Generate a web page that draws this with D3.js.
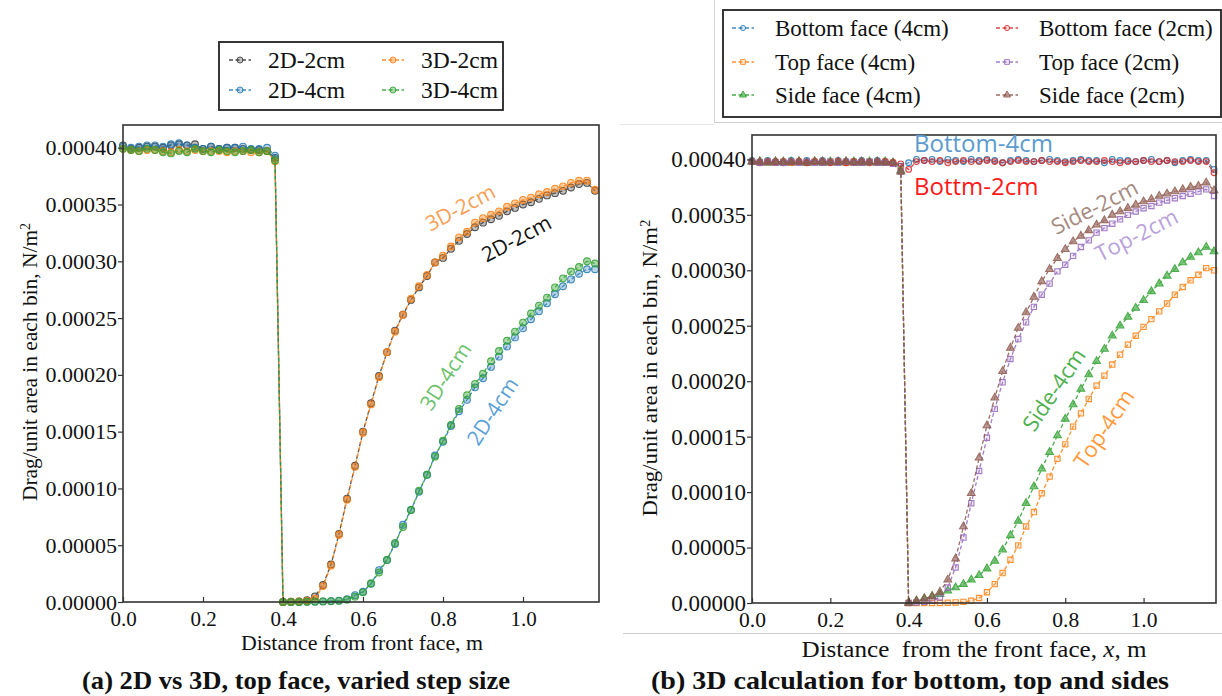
<!DOCTYPE html>
<html>
<head>
<meta charset="utf-8">
<script src="https://cdn.jsdelivr.net/npm/d3@7"></script>
<style>
  body { margin: 0; background: #fff; }
  svg { display: block; }
  text { font-family: "Liberation Serif", "Times New Roman", serif; fill: #111; }
  .note { font-family: "Open Sans", "Noto Sans", sans-serif; }
</style>
</head>
<body>
<svg id="fig" width="1222" height="696"></svg>
<script>
// distance from front face, m
const xs = [0.00, 0.02, 0.04, 0.06, 0.08, 0.10, 0.12, 0.14, 0.16, 0.18,
  0.20, 0.22, 0.24, 0.26, 0.28, 0.30, 0.32, 0.34, 0.36, 0.38,
  0.40, 0.42, 0.44, 0.46, 0.48, 0.50, 0.52, 0.54, 0.56, 0.58,
  0.60, 0.62, 0.64, 0.66, 0.68, 0.70, 0.72, 0.74, 0.76, 0.78,
  0.80, 0.82, 0.84, 0.86, 0.88, 0.90, 0.92, 0.94, 0.96, 0.98,
  1.00, 1.02, 1.04, 1.06, 1.08, 1.10, 1.12, 1.14, 1.16, 1.18];

// drag per unit area, in units of 1e-5 N/m^2
// (a) top face
const d2cm2D = [40.2, 39.9, 40.0, 40.1, 40.1, 40.0, 40.2, 40.3, 40.2, 40.3, 39.9, 40.1, 39.9, 40.0, 40.0, 39.9, 39.8, 39.8, 39.7, 39.1,
  0, 0.02, 0.05, 0.15, 0.5, 1.5, 3.3, 6.0, 9.1, 12.0, 15.0, 17.5, 19.9, 22.0, 23.9, 25.3, 26.6, 27.7, 28.7, 29.9,
  30.3, 31.1, 31.8, 32.4, 33.0, 33.4, 33.7, 34.0, 34.4, 34.7, 35.0, 35.2, 35.5, 35.8, 36.0, 36.2, 36.5, 36.8, 36.9, 36.2];
const d4cm2D = [40.1, 40.0, 40.1, 40.2, 40.2, 40.1, 40.3, 40.4, 40.2, 40.0, 39.9, 40.1, 39.9, 40.0, 40.0, 40.1, 39.9, 39.9, 40.0, 39.3,
  0, 0, 0, 0.02, 0.03, 0.05, 0.08, 0.12, 0.25, 0.6, 0.9, 1.6, 2.8, 3.7, 5.1, 6.8, 8.1, 9.7, 11.2, 12.9,
  14.1, 15.5, 16.8, 17.8, 18.9, 19.7, 20.7, 21.6, 22.5, 23.3, 24.1, 24.9, 25.6, 26.3, 27.1, 27.8, 28.4, 28.9, 29.3, 29.3];
const d2cm3D = [39.9, 39.8, 39.7, 39.8, 39.8, 39.7, 39.6, 39.8, 39.7, 39.8, 39.7, 39.7, 39.7, 39.6, 39.7, 39.7, 39.6, 39.6, 39.7, 38.8,
  0, 0.02, 0.05, 0.1, 0.3, 1.4, 3.2, 5.9, 9.0, 11.9, 14.9, 17.4, 19.8, 22.0, 23.8, 25.3, 26.7, 27.8, 28.8, 29.9,
  30.5, 31.3, 32.1, 32.6, 33.4, 33.8, 34.1, 34.4, 34.8, 35.1, 35.4, 35.6, 35.9, 36.1, 36.4, 36.6, 36.9, 37.1, 37.1, 36.3];
const d4cm3D = [39.9, 39.8, 39.7, 39.9, 39.8, 39.6, 39.5, 39.7, 39.6, 39.9, 39.7, 39.6, 39.8, 39.7, 39.6, 39.7, 39.8, 39.6, 39.7, 38.9,
  0, 0, 0, 0.02, 0.03, 0.05, 0.07, 0.1, 0.2, 0.47, 0.85, 1.65, 2.6, 3.7, 5.2, 6.6, 8.1, 9.8, 11.2, 12.8,
  14.2, 15.6, 17.0, 18.2, 19.2, 20.1, 21.2, 22.1, 23.0, 23.8, 24.6, 25.4, 26.1, 26.8, 27.7, 28.5, 29.1, 29.5, 30.0, 29.8];

// (b) 3D faces
const bottom4 = [39.9, 39.8, 39.9, 39.8, 39.8, 39.9, 39.8, 39.9, 39.8, 39.9, 39.8, 39.9, 39.8, 39.8, 39.9, 39.8, 39.9, 39.8, 39.7, 39.4,
  39.7, 40.0, 39.9, 40.0, 39.8, 40.0, 39.9, 39.8, 40.0, 39.9, 40.0, 39.9, 39.7, 39.9, 40.0, 39.9, 39.8, 39.9, 40.0, 39.9,
  39.8, 39.9, 40.0, 39.9, 39.9, 39.7, 40.0, 39.9, 39.9, 39.8, 39.9, 40.0, 39.8, 39.9, 39.7, 39.9, 40.0, 39.9, 39.9, 39.1];
const top4 = [39.8, 39.7, 39.8, 39.7, 39.8, 39.7, 39.8, 39.7, 39.8, 39.7, 39.8, 39.8, 39.7, 39.8, 39.7, 39.8, 39.7, 39.8, 39.7, 39.0,
  0, 0, 0, 0, 0, 0.02, 0.05, 0.1, 0.2, 0.45, 0.97, 1.7, 2.7, 3.9, 5.2, 6.9, 8.2, 9.9, 11.4, 13.0,
  14.3, 15.9, 17.1, 18.4, 19.6, 20.5, 21.5, 22.4, 23.3, 24.1, 24.9, 25.6, 26.3, 27.0, 27.8, 28.5, 29.1, 29.6, 30.2, 30.0];
const side4 = [39.8, 39.8, 39.7, 39.8, 39.7, 39.8, 39.8, 39.7, 39.8, 39.7, 39.8, 39.7, 39.8, 39.8, 39.7, 39.8, 39.7, 39.8, 39.7, 39.0,
  0, 0.2, 0.4, 0.6, 0.8, 1.1, 1.4, 1.7, 2.1, 2.5, 3.1, 3.8, 4.8, 6.1, 7.4, 9.0, 10.5, 12.1, 13.6, 15.1,
  16.6, 17.9, 19.3, 20.6, 21.8, 22.9, 24.1, 25.0, 25.8, 26.6, 27.3, 28.1, 28.8, 29.5, 30.1, 30.7, 31.2, 31.6, 32.1, 31.7];
const bottom2 = [39.8, 39.7, 39.8, 39.8, 39.7, 39.8, 39.8, 39.7, 39.8, 39.8, 39.7, 39.8, 39.7, 39.8, 39.8, 39.7, 39.8, 39.8, 39.7, 39.6,
  39.1, 39.8, 39.9, 39.8, 39.9, 39.7, 39.8, 39.9, 39.8, 39.8, 39.9, 39.8, 39.7, 39.8, 39.9, 39.8, 39.8, 39.9, 39.8, 39.8,
  39.7, 39.8, 39.9, 39.8, 39.8, 39.9, 39.8, 39.7, 39.8, 39.8, 39.9, 39.8, 39.8, 39.9, 39.8, 39.8, 39.9, 39.8, 39.8, 38.8];
const top2 = [39.8, 39.7, 39.8, 39.7, 39.7, 39.8, 39.7, 39.8, 39.7, 39.7, 39.8, 39.7, 39.8, 39.7, 39.7, 39.8, 39.7, 39.7, 39.6, 38.9,
  0, 0.05, 0.1, 0.2, 0.5, 1.4, 3.2, 5.9, 9.0, 11.9, 14.9, 17.5, 19.9, 22.0, 23.8, 25.3, 26.7, 27.8, 28.8, 29.9,
  30.5, 31.3, 32.1, 32.7, 33.4, 33.8, 34.2, 34.6, 35.0, 35.3, 35.6, 35.8, 36.1, 36.3, 36.5, 36.7, 36.9, 37.1, 37.3, 36.7];
const side2 = [39.8, 39.8, 39.7, 39.8, 39.8, 39.7, 39.8, 39.7, 39.8, 39.8, 39.7, 39.8, 39.8, 39.7, 39.8, 39.7, 39.8, 39.7, 39.7, 38.9,
  0, 0.2, 0.4, 0.6, 1.0, 2.1, 4.0, 6.9, 9.9, 13.1, 16.0, 18.5, 20.9, 23.0, 24.8, 26.2, 27.6, 29.0, 30.1, 31.1,
  31.9, 32.6, 33.1, 33.6, 34.1, 34.5, 35.0, 35.3, 35.6, 35.9, 36.2, 36.4, 36.7, 36.9, 37.1, 37.3, 37.5, 37.6, 37.9, 37.2];

const xTicks = [0.0, 0.2, 0.4, 0.6, 0.8, 1.0];
const yTicks = [0, 5, 10, 15, 20, 25, 30, 35, 40];

const svg = d3.select('#fig');

// screenshot border lines around panel (b)
svg.append('line').attr('x1', 620).attr('x2', 714).attr('y1', 124.5).attr('y2', 124.5).attr('stroke', '#e2e2e2');
svg.append('line').attr('x1', 714).attr('x2', 1222).attr('y1', 122.5).attr('y2', 122.5).attr('stroke', '#cfcfcf');
svg.append('line').attr('x1', 714.5).attr('x2', 714.5).attr('y1', 0).attr('y2', 122).attr('stroke', '#d8d8d8');
svg.append('line').attr('x1', 623).attr('x2', 1222).attr('y1', 633.5).attr('y2', 633.5).attr('stroke', '#cccccc');

const symbols = { circle: d3.symbolCircle, square: d3.symbolSquare, triangle: d3.symbolTriangle };

function drawPanel(cfg) {
  const g = svg.append('g');
  const x = d3.scaleLinear().domain([0, cfg.xMax]).range([cfg.left, cfg.right]);
  const y = d3.scaleLinear().domain([0, cfg.yMax]).range([cfg.bottom, cfg.top]);

  // series
  cfg.series.forEach(s => {
    const pts = xs.map((d, i) => [d, s.values[i]]);
    const sg = g.append('g').attr('opacity', s.opacity || 0.85);
    sg.append('path')
      .datum(pts)
      .attr('fill', 'none')
      .attr('stroke', s.color)
      .attr('stroke-width', 1.3)
      .attr('stroke-dasharray', '4,2.5')
      .attr('d', d3.line().x(d => x(d[0])).y(d => y(d[1])));
    sg.selectAll('path.m')
      .data(pts)
      .enter()
      .append('path')
      .attr('class', 'm')
      .attr('transform', d => `translate(${x(d[0])},${y(d[1])})`)
      .attr('d', d3.symbol().type(symbols[s.marker]).size(s.size))
      .attr('fill', s.color)
      .attr('fill-opacity', s.fillOpacity)
      .attr('stroke', s.color)
      .attr('stroke-width', 1.1);
  });

  // frame
  g.append('rect')
    .attr('x', cfg.left).attr('y', cfg.top)
    .attr('width', cfg.right - cfg.left).attr('height', cfg.bottom - cfg.top)
    .attr('fill', 'none').attr('stroke', '#333').attr('stroke-width', 1.6);

  const xAxis = g.append('g')
    .attr('transform', `translate(0,${cfg.bottom})`)
    .call(d3.axisBottom(x).tickValues(xTicks).tickFormat(d3.format('.1f')).tickSize(-5).tickPadding(cfg.xPad));
  const yAxis = g.append('g')
    .attr('transform', `translate(${cfg.left},0)`)
    .call(d3.axisLeft(y).tickValues(yTicks).tickFormat(d => (d * 1e-5).toFixed(5)).tickSize(5).tickPadding(cfg.yPad));
  [[xAxis, cfg.xTickFont], [yAxis, cfg.yTickFont]].forEach(([a, fs]) => {
    a.select('.domain').remove();
    a.selectAll('line').attr('stroke', '#333').attr('stroke-width', 1.2);
    a.selectAll('text').attr('font-family', null).attr('font-size', fs).attr('fill', '#111');
  });

  // y label
  const yl = g.append('text')
    .attr('transform', `translate(${cfg.yLabelX},${cfg.yLabelY}) rotate(-90)`)
    .attr('text-anchor', 'middle')
    .attr('font-size', cfg.labelFont)
    .attr('textLength', cfg.yLabelLen)
    .attr('lengthAdjust', 'spacingAndGlyphs');
  yl.append('tspan').text('Drag/unit area in each bin, N/m');
  yl.append('tspan').attr('dy', '-0.5em').attr('font-size', cfg.labelFont * 0.65).text('2');

  // annotations
  cfg.notes.forEach(n => {
    g.append('text')
      .attr('class', 'note')
      .attr('transform', `translate(${n.x},${n.y}) rotate(${n.angle})`)
      .attr('text-anchor', n.anchor || 'middle')
      .attr('dominant-baseline', n.anchor ? 'auto' : 'central')
      .attr('font-size', n.size)
      .style('fill', n.color)
      .text(n.text);
  });

  return g;
}

function drawLegend(cfg) {
  const g = svg.append('g');
  g.append('rect')
    .attr('x', cfg.x).attr('y', cfg.y).attr('width', cfg.w).attr('height', cfg.h)
    .attr('fill', '#fff').attr('stroke', '#222').attr('stroke-width', 1.8);
  cfg.items.forEach(it => {
    const mx = cfg.colX[it.col], my = cfg.rowY[it.row];
    g.append('line')
      .attr('x1', mx - 11).attr('x2', mx + 11).attr('y1', my).attr('y2', my)
      .attr('stroke', it.s.color).attr('stroke-width', 1.3).attr('stroke-dasharray', '4,2.5').attr('opacity', 0.85);
    g.append('path')
      .attr('transform', `translate(${mx},${my})`)
      .attr('d', d3.symbol().type(symbols[it.s.marker]).size(it.s.size * 0.8))
      .attr('fill', it.s.color).attr('fill-opacity', it.s.fillOpacity)
      .attr('stroke', it.s.color).attr('stroke-width', 1).attr('opacity', 0.85);
    g.append('text')
      .attr('x', mx + cfg.textGap).attr('y', my)
      .attr('dominant-baseline', 'central')
      .attr('font-size', cfg.font)
      .text(it.s.name);
  });
}

// ---------- panel (a)
const seriesA = [
  { name: '2D-2cm', values: d2cm2D, color: '#333333', marker: 'circle', size: 36, fillOpacity: 0.35 },
  { name: '2D-4cm', values: d4cm2D, color: '#1f77b4', marker: 'circle', size: 36, fillOpacity: 0.35 },
  { name: '3D-2cm', values: d2cm3D, color: '#ff7f0e', marker: 'circle', size: 36, fillOpacity: 0.45 },
  { name: '3D-4cm', values: d4cm3D, color: '#2ca02c', marker: 'circle', size: 36, fillOpacity: 0.45 }
];

drawPanel({
  left: 123, right: 599, top: 125, bottom: 602, xMax: 1.19, yMax: 42,
  series: seriesA, xTickFont: 21, yTickFont: 22, xPad: 9, yPad: 1,
  labelFont: 21, yLabelX: 37, yLabelY: 362, yLabelLen: 278,
  notes: [
    { text: '3D-2cm', x: 460, y: 207, angle: -28, size: 21, color: '#f8a055' },
    { text: '2D-2cm', x: 516, y: 238, angle: -28, size: 21, color: '#111' },
    { text: '3D-4cm', x: 445, y: 376, angle: -57, size: 21, color: '#6cc26c' },
    { text: '2D-4cm', x: 492, y: 411, angle: -57, size: 21, color: '#5b9fd6' }
  ]
});

drawLegend({
  x: 219, y: 42, w: 284, h: 68, font: 23.5, textGap: 28,
  colX: [240, 393], rowY: [60, 90],
  items: [
    { s: seriesA[0], col: 0, row: 0 }, { s: seriesA[1], col: 0, row: 1 },
    { s: seriesA[2], col: 1, row: 0 }, { s: seriesA[3], col: 1, row: 1 }
  ]
});

svg.append('text').attr('x', 362).attr('y', 650).attr('text-anchor', 'middle')
  .attr('font-size', 21).attr('textLength', 242).attr('lengthAdjust', 'spacingAndGlyphs')
  .text('Distance from front face, m');

// ---------- panel (b)
const seriesB = [
  { name: 'Bottom face (4cm)', values: bottom4, color: '#1f77b4', marker: 'circle', size: 26, fillOpacity: 0.15 },
  { name: 'Top face (4cm)', values: top4, color: '#ff7f0e', marker: 'square', size: 28, fillOpacity: 0.15 },
  { name: 'Side face (4cm)', values: side4, color: '#2ca02c', marker: 'triangle', size: 26, fillOpacity: 0.7 },
  { name: 'Bottom face (2cm)', values: bottom2, color: '#d62728', marker: 'circle', size: 26, fillOpacity: 0.15 },
  { name: 'Top face (2cm)', values: top2, color: '#9467bd', marker: 'square', size: 28, fillOpacity: 0.15 },
  { name: 'Side face (2cm)', values: side2, color: '#8c564b', marker: 'triangle', size: 26, fillOpacity: 0.7 }
];

drawPanel({
  left: 752, right: 1216, top: 135, bottom: 603, xMax: 1.185, yMax: 42.2,
  series: seriesB, xTickFont: 21.5, yTickFont: 23, xPad: 9, yPad: 1,
  labelFont: 22, yLabelX: 657, yLabelY: 368, yLabelLen: 297,
  notes: [
    { text: 'Bottom-4cm', x: 914, y: 152, angle: 0, size: 24, color: '#5b9bd0', anchor: 'start' },
    { text: 'Bottm-2cm', x: 914, y: 195, angle: 0, size: 24, color: '#ff1a1a', anchor: 'start' },
    { text: 'Side-2cm', x: 1094, y: 206, angle: -27, size: 22, color: '#a68a80' },
    { text: 'Top-2cm', x: 1136, y: 234, angle: -27, size: 22, color: '#b9a1dc' },
    { text: 'Side-4cm', x: 1053, y: 389, angle: -56, size: 22, color: '#4fb04f' },
    { text: 'Top-4cm', x: 1103, y: 428, angle: -56, size: 22, color: '#ff9b3d' }
  ]
});

drawLegend({
  x: 723, y: 10, w: 498, h: 107, font: 23, textGap: 32,
  colX: [743, 1007], rowY: [28, 62, 95],
  items: [
    { s: seriesB[0], col: 0, row: 0 }, { s: seriesB[1], col: 0, row: 1 }, { s: seriesB[2], col: 0, row: 2 },
    { s: seriesB[3], col: 1, row: 0 }, { s: seriesB[4], col: 1, row: 1 }, { s: seriesB[5], col: 1, row: 2 }
  ]
});

const xl = svg.append('text').attr('x', 974).attr('y', 657).attr('text-anchor', 'middle')
  .attr('font-size', 23).attr('textLength', 345).attr('lengthAdjust', 'spacingAndGlyphs')
  .attr('xml:space', 'preserve');
xl.append('tspan').text('Distance  from the front face, ');
xl.append('tspan').attr('font-style', 'italic').text('x');
xl.append('tspan').text(', m');

// captions
svg.append('text').attr('x', 296).attr('y', 689).attr('text-anchor', 'middle')
  .attr('font-size', 25).attr('font-weight', 'bold').attr('textLength', 428).attr('lengthAdjust', 'spacingAndGlyphs')
  .text('(a) 2D vs 3D, top face, varied step size');
svg.append('text').attr('x', 910).attr('y', 689).attr('text-anchor', 'middle')
  .attr('font-size', 25).attr('font-weight', 'bold').attr('textLength', 518).attr('lengthAdjust', 'spacingAndGlyphs')
  .text('(b) 3D calculation for bottom, top and sides');
</script>
</body>
</html>
